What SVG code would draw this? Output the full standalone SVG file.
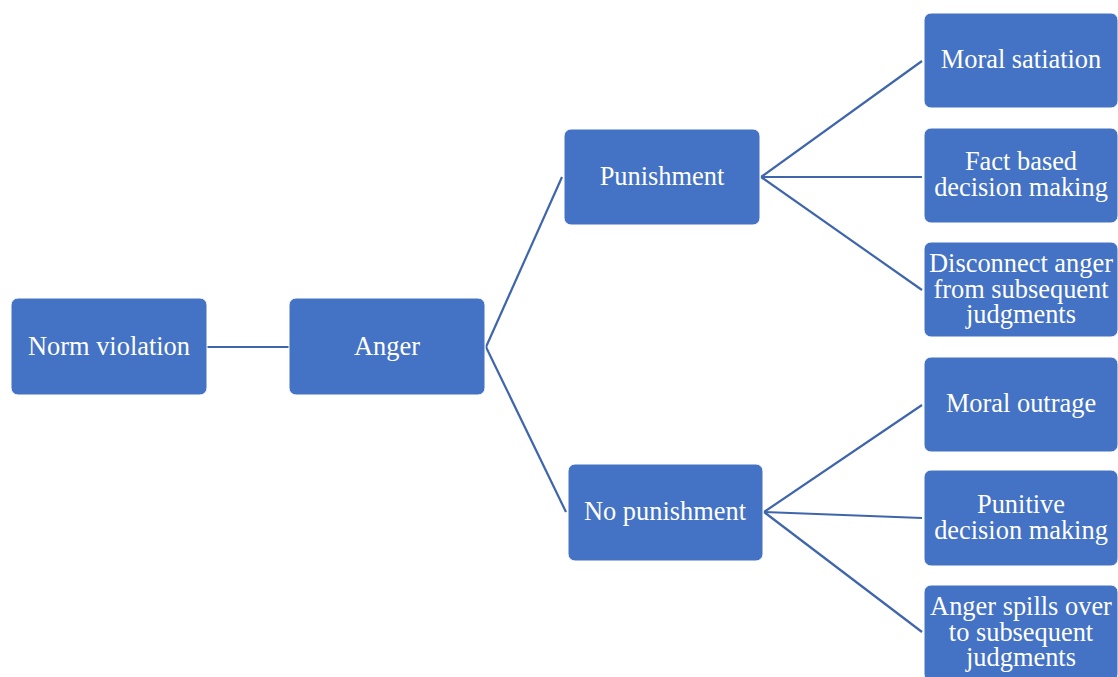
<svg xmlns="http://www.w3.org/2000/svg" width="1118" height="677" viewBox="0 0 1118 677">
<style>
.box{fill:#4472c4;stroke:#ffffff;stroke-width:1}
.t{font-family:"Liberation Serif","Times New Roman",serif;font-size:26.4px;fill:#ffffff;text-anchor:middle}
.c{stroke:#3f65ab;stroke-width:2.2;fill:none}
</style>
<rect width="1118" height="677" fill="#ffffff"/>
<g id="connectors">
<line class="c" x1="207" y1="347" x2="289" y2="347"/>
<line class="c" x1="486" y1="347" x2="562" y2="177"/>
<line class="c" x1="486" y1="347" x2="566" y2="512"/>
<line class="c" x1="761" y1="177" x2="922" y2="61"/>
<line class="c" x1="761" y1="177" x2="922" y2="177"/>
<line class="c" x1="761" y1="177" x2="922" y2="290"/>
<line class="c" x1="764" y1="512" x2="922" y2="405"/>
<line class="c" x1="764" y1="512" x2="922" y2="518"/>
<line class="c" x1="764" y1="512" x2="922" y2="632"/>
</g>
<g id="norm-violation">
<rect class="box" x="11" y="298" width="196" height="97" rx="7"/>
<text class="t" x="109" y="355">Norm violation</text>
</g>
<g id="anger">
<rect class="box" x="289" y="298" width="196" height="97" rx="7"/>
<text class="t" x="387" y="355">Anger</text>
</g>
<g id="punishment">
<rect class="box" x="564" y="129" width="196" height="96" rx="7"/>
<text class="t" x="662" y="185">Punishment</text>
</g>
<g id="no-punishment">
<rect class="box" x="568" y="464" width="195" height="97" rx="7"/>
<text class="t" x="665" y="520">No punishment</text>
</g>
<g id="moral-satiation">
<rect class="box" x="924" y="13" width="194" height="95" rx="7"/>
<text class="t" x="1021" y="68">Moral satiation</text>
</g>
<g id="fact-based">
<rect class="box" x="924" y="128" width="194" height="95" rx="7"/>
<text class="t" x="1021" y="170">Fact based</text>
<text class="t" x="1021" y="196">decision making</text>
</g>
<g id="disconnect-anger">
<rect class="box" x="924" y="242" width="194" height="95" rx="7"/>
<text class="t" x="1021" y="272">Disconnect anger</text>
<text class="t" x="1021" y="298">from subsequent</text>
<text class="t" x="1021" y="323">judgments</text>
</g>
<g id="moral-outrage">
<rect class="box" x="924" y="357" width="194" height="95" rx="7"/>
<text class="t" x="1021" y="412">Moral outrage</text>
</g>
<g id="punitive">
<rect class="box" x="924" y="470" width="194" height="96" rx="7"/>
<text class="t" x="1021" y="513">Punitive</text>
<text class="t" x="1021" y="539">decision making</text>
</g>
<g id="anger-spills">
<rect class="box" x="924" y="585" width="194" height="96" rx="7"/>
<text class="t" x="1021" y="615">Anger spills over</text>
<text class="t" x="1021" y="641">to subsequent</text>
<text class="t" x="1021" y="666">judgments</text>
</g>
</svg>
